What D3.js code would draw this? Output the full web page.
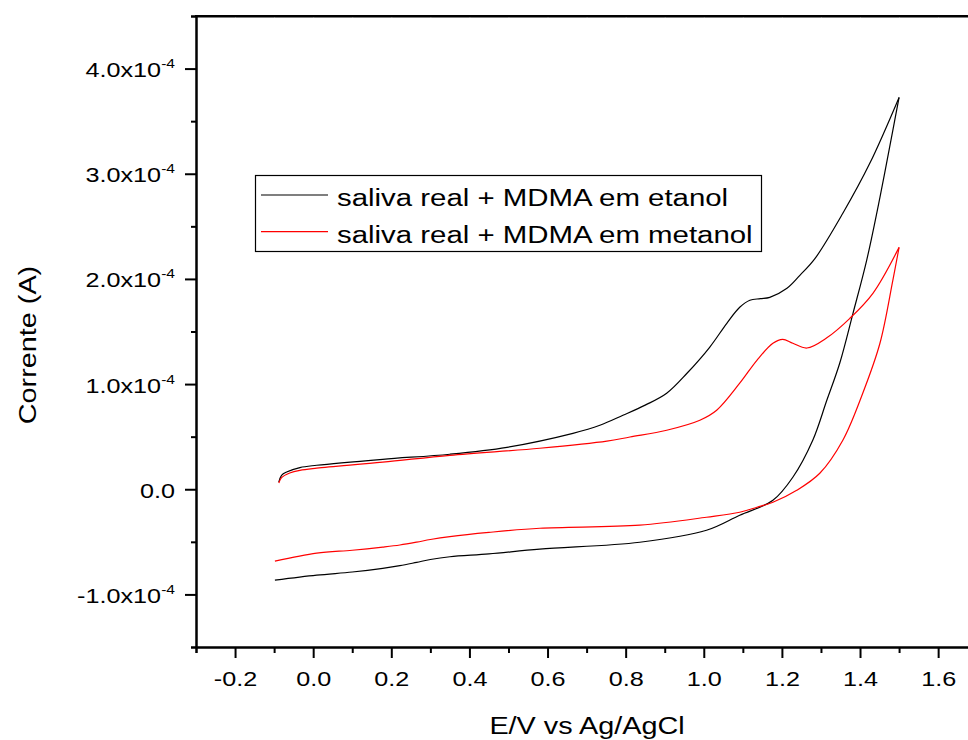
<!DOCTYPE html>
<meta charset="utf-8" />
<script src="https://d3js.org/d3.v7.min.js"></script>
<style>
    body { margin: 0; background: #fff; }
    text { font-family: "Liberation Sans", Arial, sans-serif; fill: #000; }
</style>
<div id="chart"></div>
<script>

    // current values in units of 1e-4 A, potential in V vs Ag/AgCl
    const etanolFwdE = [-0.088, -0.081, -0.068, -0.034, 0.009, 0.178, 0.350, 0.496, 0.665, 0.734, 0.793, 0.850, 0.905, 0.957, 1.015, 1.059, 1.092, 1.118, 1.145, 1.169, 1.213, 1.246, 1.284, 1.356, 1.425, 1.500]
    const etanolFwdI = [0.067, 0.133, 0.164, 0.206, 0.228, 0.285, 0.333, 0.399, 0.532, 0.608, 0.703, 0.800, 0.913, 1.103, 1.350, 1.578, 1.730, 1.797, 1.812, 1.825, 1.911, 2.034, 2.190, 2.624, 3.099, 3.726]
    const etanolRevE = [1.500, 1.484, 1.451, 1.417, 1.382, 1.348, 1.315, 1.279, 1.228, 1.177, 1.092, 1.007, 0.836, 0.580, 0.450, 0.350, 0.300, 0.265, 0.222, 0.178, 0.100, 0.009, -0.098]
    const etanolRevI = [3.726, 3.413, 2.776, 2.177, 1.673, 1.198, 0.846, 0.466, 0.114, -0.105, -0.247, -0.390, -0.504, -0.570, -0.615, -0.642, -0.668, -0.695, -0.727, -0.752, -0.787, -0.817, -0.865]

    const metanolFwdE = [-0.088, -0.081, -0.060, -0.034, 0.009, 0.178, 0.350, 0.580, 0.752, 0.811, 0.905, 0.990, 1.033, 1.092, 1.136, 1.177, 1.202, 1.228, 1.264, 1.315, 1.374, 1.433, 1.500]
    const metanolFwdI = [0.060, 0.111, 0.155, 0.180, 0.200, 0.257, 0.323, 0.390, 0.457, 0.497, 0.561, 0.656, 0.751, 1.008, 1.226, 1.388, 1.426, 1.388, 1.343, 1.440, 1.625, 1.863, 2.300]
    const metanolRevE = [1.500, 1.484, 1.451, 1.407, 1.356, 1.297, 1.238, 1.177, 1.136, 1.092, 1.007, 0.836, 0.580, 0.450, 0.350, 0.300, 0.265, 0.222, 0.178, 0.100, 0.009, -0.098]
    const metanolRevI = [2.300, 1.986, 1.388, 0.913, 0.466, 0.152, -0.010, -0.124, -0.171, -0.219, -0.266, -0.342, -0.371, -0.410, -0.450, -0.478, -0.503, -0.530, -0.550, -0.580, -0.608, -0.684]

    const xTicks = [-0.2, 0.0, 0.2, 0.4, 0.6, 0.8, 1.0, 1.2, 1.4, 1.6]
    const xMinor = [-0.3, -0.1, 0.1, 0.3, 0.5, 0.7, 0.9, 1.1, 1.3, 1.5]
    const yTicks = [-1e-4, 0, 1e-4, 2e-4, 3e-4, 4e-4]
    const yMinor = [-1.5e-4, -0.5e-4, 0.5e-4, 1.5e-4, 2.5e-4, 3.5e-4, 4.5e-4]

    const seriesNames = ["saliva real + MDMA em etanol", "saliva real + MDMA em metanol"]
    const seriesColors = ["#000000", "#ff0000"]

    const width = 968, height = 740
    const stretch = 1.2

    const svg = d3.select("#chart")
        .append("svg")
        .attr("width", width)
        .attr("height", height)

    const x = d3.scaleLinear().domain([-0.3, 1.7]).range([196, 977.2])
    const y = d3.scaleLinear().domain([-1.5e-4, 4.5e-4]).range([647, 16])

    // axes
    const xMinorAxis = svg.append("g")
        .attr("transform", `translate(0, ${y.range()[0]})`)
        .call(d3.axisBottom(x).tickValues(xMinor).tickSize(6).tickFormat(""))
    const xAxis = svg.append("g")
        .attr("transform", `translate(0, ${y.range()[0]})`)
        .call(d3.axisBottom(x).tickValues(xTicks).tickSize(11).tickSizeOuter(0).tickFormat(d3.format(".1f")))
    xAxis.selectAll("text")
        .attr("y", 0)
        .attr("dy", 0)
        .attr("transform", `translate(0, 39) scale(${stretch}, 1)`)
        .style("font-size", "21px")
        .text(d => d3.format(".1f")(d).replace("−", "-"))

    const topAxis = svg.append("g")
        .attr("transform", `translate(0, ${y.range()[1]})`)
        .call(d3.axisTop(x).tickValues(xTicks.concat(xMinor)).tickSize(-2).tickSizeOuter(0).tickFormat(""))
    topAxis.selectAll(".tick line").attr("stroke", "#999")

    const yMinorAxis = svg.append("g")
        .attr("transform", `translate(${x.range()[0]}, 0)`)
        .call(d3.axisLeft(y).tickValues(yMinor).tickSize(5).tickFormat(""))
    const yAxis = svg.append("g")
        .attr("transform", `translate(${x.range()[0]}, 0)`)
        .call(d3.axisLeft(y).tickValues(yTicks).tickSize(11).tickSizeOuter(0))
    yAxis.selectAll("text").each(function (d) {
        const t = d3.select(this)
            .text(null)
            .attr("x", 0)
            .attr("dy", 0)
            .attr("transform", `translate(-21, 8) scale(${stretch}, 1)`)
            .style("font-size", "21px")
        if (d === 0) {
            t.text("0.0")
        } else {
            const m = d / 1e-4
            t.append("tspan").text(m.toFixed(1).replace("−", "-") + "x10")
            t.append("tspan").attr("dy", -9).style("font-size", "13px").text("-4")
        }
    })

    svg.selectAll(".domain").attr("stroke-width", 2)
    svg.selectAll(".tick line").attr("stroke-width", 2)
    topAxis.selectAll(".tick line").attr("stroke-width", 1)

    // top frame line
    svg.append("line")
        .attr("x1", x.range()[0] - 1).attr("x2", x.range()[1])
        .attr("y1", y.range()[1]).attr("y2", y.range()[1])
        .attr("stroke", "#000").attr("stroke-width", 2)

    // curves
    const line = d3.line()
        .x(d => x(d[0]))
        .y(d => y(d[1] * 1e-4))
        .curve(d3.curveCatmullRom.alpha(0.5))

    const segments = [
        [etanolFwdE, etanolFwdI, 0],
        [etanolRevE, etanolRevI, 0],
        [metanolFwdE, metanolFwdI, 1],
        [metanolRevE, metanolRevI, 1]
    ]
    segments.forEach(([es, is, k]) => {
        svg.append("path")
            .datum(d3.zip(es, is))
            .attr("fill", "none")
            .attr("stroke", seriesColors[k])
            .attr("stroke-width", 1.2)
            .attr("d", line)
    })

    // legend
    const legend = svg.append("g")
    legend.append("rect")
        .attr("x", 255.5).attr("y", 175.5)
        .attr("width", 506).attr("height", 76)
        .attr("fill", "white").attr("stroke", "#000").attr("stroke-width", 1.2)
    seriesNames.forEach((name, i) => {
        const ly = 195 + i * 36.7
        legend.append("line")
            .attr("x1", 261).attr("x2", 328)
            .attr("y1", ly).attr("y2", ly)
            .attr("stroke", seriesColors[i]).attr("stroke-width", 1.2)
        legend.append("text")
            .attr("transform", `translate(337, ${ly + 11}) scale(${stretch}, 1)`)
            .style("font-size", "24.5px")
            .text(name)
    })

    // axis titles
    svg.append("text")
        .attr("transform", `translate(587, 734) scale(${stretch}, 1)`)
        .attr("text-anchor", "middle")
        .style("font-size", "24px")
        .text("E/V vs Ag/AgCl")

    svg.append("text")
        .attr("transform", `translate(36, 345) rotate(-90) scale(${stretch}, 1)`)
        .attr("text-anchor", "middle")
        .style("font-size", "24px")
        .text("Corrente (A)")

</script>
